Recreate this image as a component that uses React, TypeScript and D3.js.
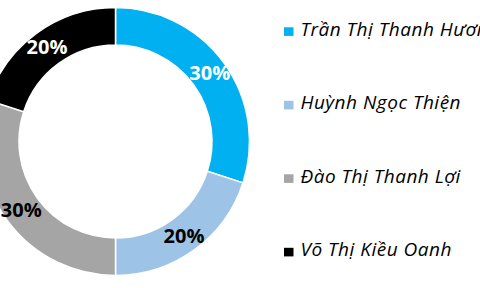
import React from "react";
import * as d3 from "d3";

const names = ["Trần Thị Thanh Hương", "Huỳnh Ngọc Thiện", "Đào Thị Thanh Lợi", "Võ Thị Kiều Oanh"];
const shares = [30, 20, 30, 20];
const colors = ["#00B0F0", "#9DC3E6", "#A5A5A5", "#000000"];
const labelColors = ["#FFFFFF", "#000000", "#000000", "#FFFFFF"];

const W = 480;
const H = 288;
const cx = 115.5;
const cy = 141.5;
const outerR = 134;
const innerR = 96.5;

export default function App() {
  const pie = d3.pie<number>().sort(null).value((d) => d);
  const arcs = pie(shares);
  const arc = d3.arc<d3.PieArcDatum<number>>().innerRadius(innerR).outerRadius(outerR);
  const labelArc = d3.arc<d3.PieArcDatum<number>>().innerRadius(116.5).outerRadius(116.5);
  const total = d3.sum(shares);

  const legendY = d3.scalePoint<string>().domain(names).range([31.5, 252]);

  return (
    <div style={{ position: "fixed", left: 0, top: 0 }}>
      <svg width={W} height={H} style={{ display: "block", background: "#fff" }}>
        <g transform={`translate(${cx},${cy})`}>
          {arcs.map((a, i) => (
            <path key={i} d={arc(a) ?? ""} fill={colors[i]} stroke="#fff" strokeWidth={1.5} />
          ))}
          {arcs.map((a, i) => {
            const [x, y] = labelArc.centroid(a);
            return (
              <text
                key={i}
                x={x}
                y={y}
                dy="0.36em"
                textAnchor="middle"
                fill={labelColors[i]}
                fontFamily="'Open Sans', sans-serif"
                fontWeight={700}
                fontSize={20}
              >
                {`${Math.round((a.data / total) * 100)}%`}
              </text>
            );
          })}
        </g>
        {names.map((n, i) => {
          const y = legendY(n) ?? 0;
          return (
            <g key={n}>
              <rect x={284} y={y - 4.2} width={9.5} height={8.6} fill={colors[i]} />
              <text
                x={300.5}
                y={y + 4.3}
                fontFamily="'Open Sans', sans-serif"
                fontStyle="italic"
                fontSize={19}
                letterSpacing={0.5}
                fill="#000"
              >
                {n}
              </text>
            </g>
          );
        })}
      </svg>
    </div>
  );
}
